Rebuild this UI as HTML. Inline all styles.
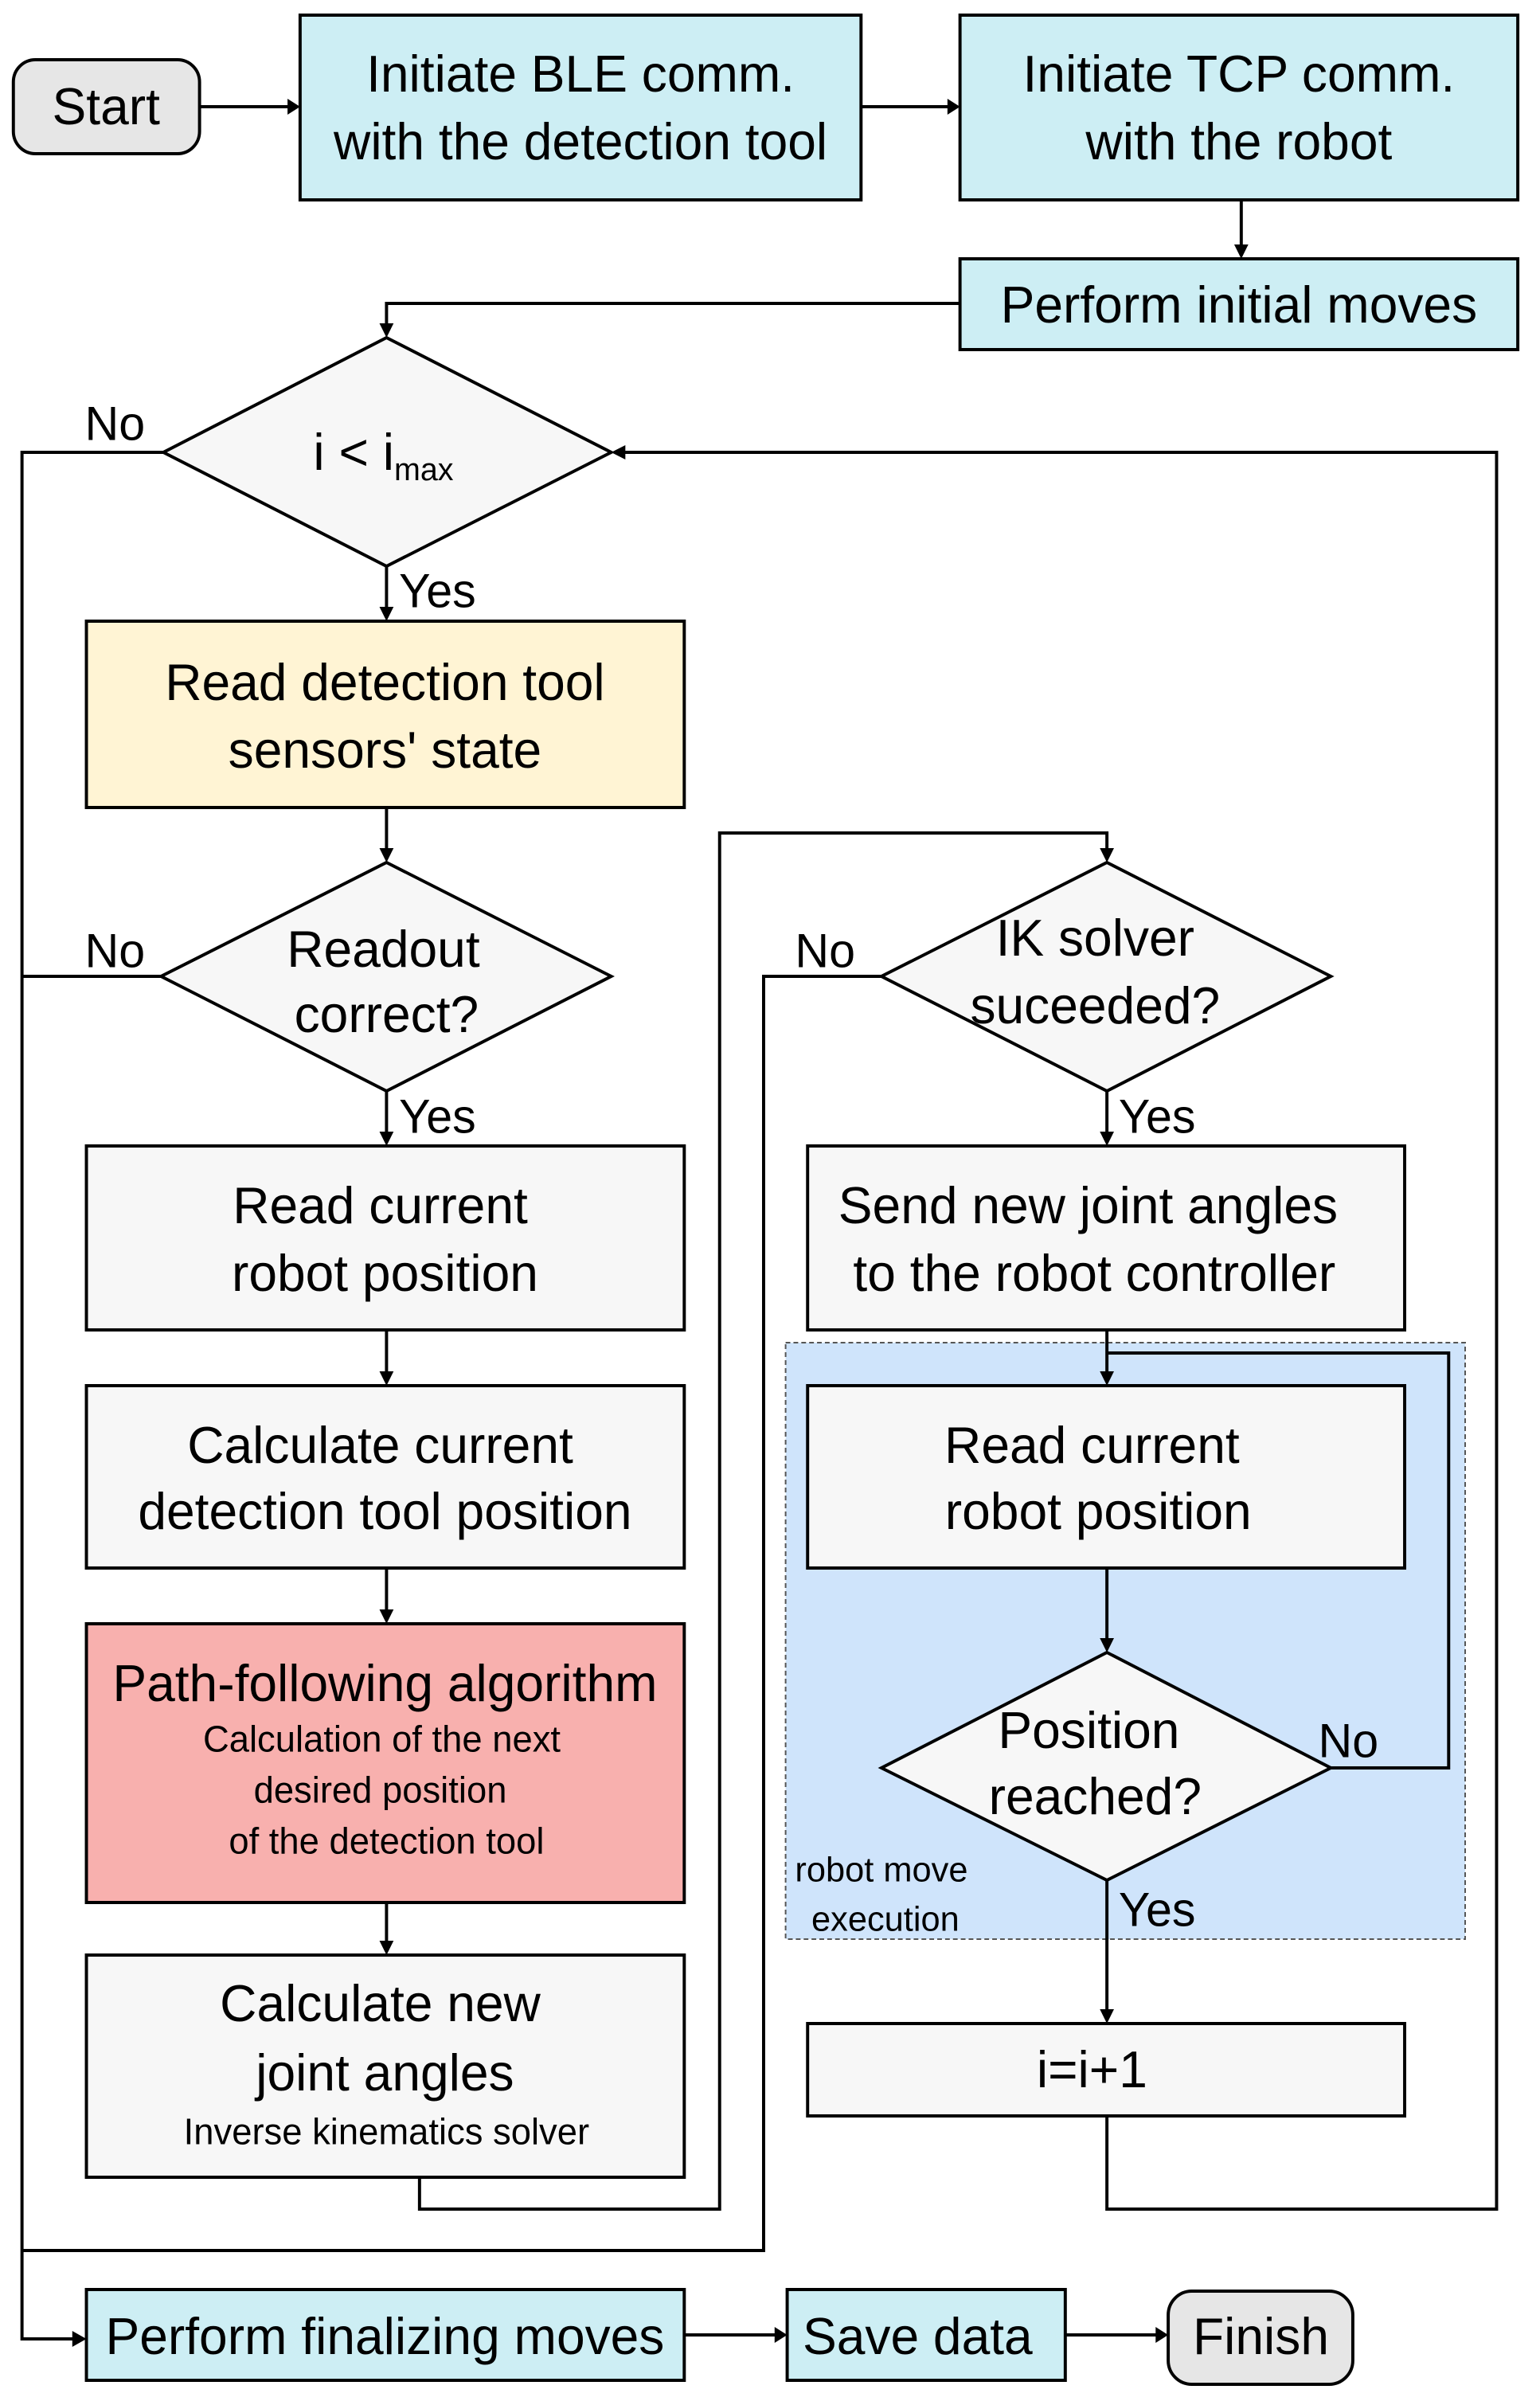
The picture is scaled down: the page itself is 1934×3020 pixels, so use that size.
<!DOCTYPE html>
<html><head><meta charset="utf-8"><style>
html,body{margin:0;padding:0;background:#fff}
svg{display:block}
text{font-family:"Liberation Sans",Arial,sans-serif;fill:#000}
</style></head><body>
<svg width="1934" height="3020" viewBox="0 0 1934 3020" xmlns="http://www.w3.org/2000/svg">
<g transform="scale(0.9866,1)">
<rect x="1000" y="1686" width="865" height="749" fill="#cfe4fb" stroke="#555" stroke-width="2" stroke-dasharray="6,4"/>

<g fill="none" stroke="#000" stroke-width="4">
<line x1="254" y1="134" x2="370" y2="134"/>
<line x1="1096" y1="134" x2="1210" y2="134"/>
<line x1="1580" y1="251" x2="1580" y2="312"/>
<polyline points="1222,381 492,381 492,410"/>
<polyline points="208,568 28,568 28,2937 96,2937"/>
<polyline points="1409,2657 1409,2774 1905,2774 1905,568 794,568"/>
<line x1="492" y1="711" x2="492" y2="766"/>
<line x1="492" y1="1014" x2="492" y2="1068"/>
<line x1="205" y1="1226" x2="28" y2="1226"/>
<line x1="492" y1="1370" x2="492" y2="1425"/>
<line x1="492" y1="1670" x2="492" y2="1726"/>
<line x1="492" y1="1969" x2="492" y2="2025"/>
<line x1="492" y1="2389" x2="492" y2="2441"/>
<polyline points="534,2734 534,2774 916,2774 916,1046 1409,1046 1409,1068"/>
<polyline points="1122,1226 972,1226 972,2826 28,2826"/>
<line x1="1409" y1="1370" x2="1409" y2="1425"/>
<line x1="1409" y1="1670" x2="1409" y2="1726"/>
<polyline points="1694,2220 1844,2220 1844,1699 1409,1699"/>
<line x1="1409" y1="1969" x2="1409" y2="2061"/>
<line x1="1409" y1="2361" x2="1409" y2="2527"/>
<line x1="871" y1="2932" x2="990" y2="2932"/>
<line x1="1356" y1="2932" x2="1474" y2="2932"/>
</g>
<g fill="#000">
<polygon points="382,134 366,124 366,144"/>
<polygon points="1222,134 1206,124 1206,144"/>
<polygon points="1580,325 1571,307 1589,307"/>
<polygon points="492,424 483,406 501,406"/>
<polygon points="778,568 796,559 796,577"/>
<polygon points="492,780 483,762 501,762"/>
<polygon points="492,1083 483,1065 501,1065"/>
<polygon points="492,1439 483,1421 501,1421"/>
<polygon points="492,1740 483,1722 501,1722"/>
<polygon points="492,2039 483,2021 501,2021"/>
<polygon points="492,2455 483,2437 501,2437"/>
<polygon points="1409,1083 1400,1065 1418,1065"/>
<polygon points="1409,1439 1400,1421 1418,1421"/>
<polygon points="1409,1740 1400,1722 1418,1722"/>
<polygon points="1409,2075 1400,2057 1418,2057"/>
<polygon points="1409,2541 1400,2523 1418,2523"/>
<polygon points="110,2937 92,2927 92,2947"/>
<polygon points="1002,2932 986,2922 986,2942"/>
<polygon points="1487,2932 1471,2922 1471,2942"/>
</g>

<g stroke="#000" stroke-width="4">
<rect x="17" y="75" width="237" height="118" rx="28" fill="#e6e6e6"/>
<rect x="382" y="19" width="714" height="232" fill="#cdeef4"/>
<rect x="1222" y="19" width="710" height="232" fill="#cdeef4"/>
<rect x="1222" y="325" width="710" height="114" fill="#cdeef4"/>
<polygon points="492,424 778,568 492,711 208,568" fill="#f7f7f7"/>
<rect x="110" y="780" width="761" height="234" fill="#fff4d4"/>
<polygon points="492,1083 778,1226 492,1370 205,1226" fill="#f7f7f7"/>
<polygon points="1409,1083 1694,1226 1409,1370 1122,1226" fill="#f7f7f7"/>
<rect x="110" y="1439" width="761" height="231" fill="#f7f7f7"/>
<rect x="1028" y="1439" width="760" height="231" fill="#f7f7f7"/>
<rect x="110" y="1740" width="761" height="229" fill="#f7f7f7"/>
<rect x="1028" y="1740" width="760" height="229" fill="#f7f7f7"/>
<rect x="110" y="2039" width="761" height="350" fill="#f8b0ae"/>
<polygon points="1409,2075 1694,2220 1409,2361 1122,2220" fill="#f7f7f7"/>
<rect x="110" y="2455" width="761" height="279" fill="#f7f7f7"/>
<rect x="1028" y="2541" width="760" height="116" fill="#f7f7f7"/>
<rect x="110" y="2875" width="761" height="114" fill="#cdeef4"/>
<rect x="1002" y="2875" width="354" height="114" fill="#cdeef4"/>
<rect x="1487" y="2877" width="235" height="117" rx="30" fill="#e6e6e6"/>
</g>

<g font-size="65" text-anchor="middle" dominant-baseline="central">
<text x="135" y="134">Start</text>
<text x="739" y="93">Initiate BLE comm.</text>
<text x="739" y="178">with the detection tool</text>
<text x="1577" y="93">Initiate TCP comm.</text>
<text x="1577" y="178">with the robot</text>
<text x="1577" y="383">Perform initial moves</text>
<text x="488" y="568">i &lt; i<tspan font-size="40" dy="22">max</tspan></text>
<text x="490" y="857">Read detection tool</text>
<text x="490" y="942">sensors' state</text>
<text x="488" y="1192">Readout</text>
<text x="492" y="1274">correct?</text>
<text x="1394" y="1178">IK solver</text>
<text x="1394" y="1263">suceeded?</text>
<text x="484" y="1514">Read current</text>
<text x="490" y="1599">robot position</text>
<text x="1385" y="1514">Send new joint angles</text>
<text x="1393" y="1599">to the robot controller</text>
<text x="484" y="1815">Calculate current</text>
<text x="490" y="1898">detection tool position</text>
<text x="1390" y="1815">Read current</text>
<text x="1398" y="1898">robot position</text>
<text x="490" y="2114">Path-following algorithm</text>
<text x="1386" y="2173">Position</text>
<text x="1394" y="2256">reached?</text>
<text x="484" y="2516">Calculate new</text>
<text x="490" y="2603">joint angles</text>
<text x="1390" y="2599">i=i+1</text>
<text x="490" y="2934">Perform finalizing moves</text>
<text x="1168" y="2934">Save data</text>
<text x="1605" y="2934">Finish</text>
</g>
<g font-size="46" text-anchor="middle" dominant-baseline="central">
<text x="486" y="2184">Calculation of the next</text>
<text x="484" y="2248">desired position</text>
<text x="492" y="2312">of the detection tool</text>
<text x="492" y="2677">Inverse kinematics solver</text>
</g>
<g font-size="44" text-anchor="middle" dominant-baseline="central">
<text x="1122" y="2348">robot move</text>
<text x="1127" y="2410">execution</text>
</g>
<g font-size="60" dominant-baseline="central">
<text x="108" y="532">No</text>
<text x="108" y="1194">No</text>
<text x="1012" y="1194">No</text>
<text x="1678" y="2186">No</text>
<text x="508" y="742">Yes</text>
<text x="508" y="1402">Yes</text>
<text x="1424" y="1402">Yes</text>
<text x="1424" y="2398">Yes</text>
</g>
</g>
</svg>
</body></html>
